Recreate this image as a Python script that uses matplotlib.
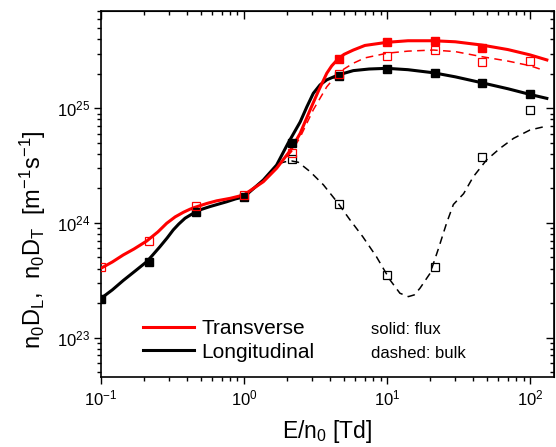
import numpy as np
import matplotlib
matplotlib.use('Agg')
import matplotlib.pyplot as plt
from matplotlib.lines import Line2D
from matplotlib.ticker import NullFormatter

plt.rcParams['font.family'] = ['Liberation Sans', 'DejaVu Sans']
plt.rcParams['mathtext.fontset'] = 'custom'
plt.rcParams['mathtext.rm'] = 'Liberation Sans'
plt.rcParams['mathtext.it'] = 'Liberation Sans:italic'
plt.rcParams['mathtext.bf'] = 'Liberation Sans:bold'

# ---- curves ----
xT_flux = [0.1, 0.12, 0.143, 0.17, 0.209, 0.25, 0.288, 0.33, 0.377, 0.42, 0.454, 0.55, 0.644,
           0.8, 0.9, 1.0, 1.365, 1.69, 2.12, 2.47, 2.9, 3.3, 3.79, 4.1, 4.54, 5.0, 5.81, 7.0,
           10, 14, 21.1, 30, 45.9, 70, 100, 131]
yT_flux = [4.03e23, 4.57e23, 5.26e23, 5.93e23, 6.97e23, 8.36e23, 9.94e23, 1.13e24, 1.24e24,
           1.32e24, 1.37e24, 1.48e24, 1.56e24, 1.64e24, 1.70e24, 1.76e24, 2.29e24, 3.0e24,
           4.33e24, 6.05e24, 9.7e24, 1.40e25, 2.02e25, 2.34e25, 2.69e25, 2.95e25, 3.22e25,
           3.53e25, 3.76e25, 3.88e25, 3.88e25, 3.8e25, 3.56e25, 3.25e25, 2.92e25, 2.64e25]

xT_bulk = [2.0, 2.15, 2.47, 3.05, 3.79, 4.1, 4.54, 5.0, 5.81, 7.0, 10, 14, 21.1, 30, 45.9, 70,
           100, 125]
yT_bulk = [3.8e24, 4.2e24, 5.6e24, 9.7e24, 1.54e25, 1.73e25, 1.99e25, 2.2e25, 2.47e25, 2.75e25,
           3.02e25, 3.15e25, 3.22e25, 3.12e25, 2.82e25, 2.58e25, 2.35e25, 2.14e25]

xL_flux = [0.1, 0.12, 0.143, 0.175, 0.209, 0.23, 0.258, 0.29, 0.32, 0.35, 0.387, 0.42, 0.454,
           0.5, 0.578, 0.65, 0.755, 0.87, 1.0, 1.365, 1.69, 2.03, 2.47, 2.75, 3.05, 3.4, 3.79,
           4.2, 4.54, 5.81, 7.5, 10, 14, 21.1, 30, 45.9, 70, 100, 131]
yL_flux = [2.2e23, 2.61e23, 3.15e23, 3.85e23, 4.6e23, 5.26e23, 6.2e23, 7.4e23, 8.7e23, 9.8e23,
           1.1e24, 1.17e24, 1.24e24, 1.31e24, 1.39e24, 1.45e24, 1.53e24, 1.62e24, 1.69e24,
           2.37e24, 3.2e24, 4.95e24, 7.6e24, 1.03e25, 1.35e25, 1.6e25, 1.77e25, 1.87e25,
           1.95e25, 2.13e25, 2.2e25, 2.23e25, 2.17e25, 2.04e25, 1.88e25, 1.67e25, 1.48e25,
           1.32e25, 1.22e25]

xL_bulk = [1.75, 1.95, 2.16, 2.4, 2.9, 3.59, 4.54, 5.46, 6.76, 8.43, 10.5, 12.3, 14.1, 15.5,
           17.0, 20.0, 22.9, 26.1, 29.1, 34.3, 40.1, 49.6, 61.7, 76.7, 100, 126]
yL_bulk = [3.3e24, 3.42e24, 3.47e24, 3.38e24, 2.8e24, 2.15e24, 1.49e24, 1.08e24, 7.6e23, 5.08e23,
           3.18e23, 2.44e23, 2.28e23, 2.36e23, 2.7e23, 3.64e23, 6.0e23, 1.0e24, 1.45e24, 1.8e24,
           2.53e24, 3.54e24, 4.48e24, 5.47e24, 6.47e24, 6.92e24]

# ---- symbols ----
xT_flux_pts = [4.64, 10, 21.5, 46.4]
yT_flux_pts = [2.69e25, 3.76e25, 3.84e25, 3.37e25]
xT_bulk_pts = [0.1, 0.215, 0.464, 1.0, 2.15, 4.64, 10, 21.5, 46.4, 100]
yT_bulk_pts = [4.13e23, 7.0e23, 1.41e24, 1.77e24, 4.07e24, 1.99e25, 2.88e25, 3.2e25, 2.52e25, 2.57e25]
xL_flux_pts = [0.1, 0.215, 0.464, 1.0, 2.15, 4.64, 10, 21.5, 46.4, 100]
yL_flux_pts = [2.18e23, 4.57e23, 1.24e24, 1.69e24, 4.95e24, 1.9e25, 2.21e25, 2.02e25, 1.65e25, 1.32e25]
xL_bulk_pts = [2.15, 4.64, 10, 21.5, 46.4, 100]
yL_bulk_pts = [3.59e24, 1.47e24, 3.52e23, 4.16e23, 3.74e24, 9.66e24]

legend_labels = ['Transverse', 'Longitudinal']
note_lines = ['solid: flux', 'dashed: bulk']

RED = '#ff0000'
fig = plt.figure(figsize=(5.56, 4.47), dpi=100)
ax = fig.add_axes([101/556, 70/447, 453/556, 366/447])
ax.set_xscale('log')
ax.set_yscale('log')
ax.set_xlim(0.1, 147)
ax.set_ylim(4.54e22, 7.05e25)

dash = (0, (5, 3.5))
ax.plot(xT_bulk, yT_bulk, color=RED, lw=1.1, ls=dash, zorder=2)
ax.plot(xL_bulk, yL_bulk, color='black', lw=1.1, ls=dash, zorder=2)
ax.plot(xL_flux, yL_flux, color='black', lw=2.2, zorder=3, solid_joinstyle='round')
ax.plot(xT_flux, yT_flux, color=RED, lw=2.2, zorder=3, solid_joinstyle='round')

ms = 5.5
ax.plot(xL_flux_pts, yL_flux_pts, ls='none', marker='s', ms=ms, color='black', zorder=4)
ax.plot(xT_flux_pts, yT_flux_pts, ls='none', marker='s', ms=ms, color=RED, zorder=4)
ax.plot(xL_bulk_pts, yL_bulk_pts, ls='none', marker='s', ms=ms, mfc='none', mec='black', mew=0.9, zorder=5)
ax.plot(xT_bulk_pts, yT_bulk_pts, ls='none', marker='s', ms=ms, mfc='none', mec=RED, mew=0.9, zorder=5)

for s in ax.spines.values():
    s.set_linewidth(1.2)
ax.tick_params(which='major', direction='out', length=5, width=1, labelsize=12, pad=3)
ax.tick_params(which='minor', direction='out', length=3, width=1)

top = ax.secondary_xaxis('top')
top.tick_params(which='major', direction='in', length=6, width=1)
top.tick_params(which='minor', direction='in', length=3, width=1)
top.xaxis.set_major_formatter(NullFormatter())
top.xaxis.set_minor_formatter(NullFormatter())
right = ax.secondary_yaxis('right')
right.tick_params(which='major', direction='in', length=6, width=1)
right.tick_params(which='minor', direction='in', length=3, width=1)
right.yaxis.set_major_formatter(NullFormatter())
right.yaxis.set_minor_formatter(NullFormatter())

ax.set_xlabel(r'E/n$_0$ [Td]', fontsize=16.5, labelpad=7.5)
ax.set_ylabel(r'n$_0$D$_\mathrm{L}$,  n$_0$D$_\mathrm{T}$  [m$^{-1}$s$^{-1}$]', fontsize=17)
ax.yaxis.set_label_coords(-0.117, 0.375)

handles = [Line2D([], [], color=RED, lw=2.2), Line2D([], [], color='black', lw=2.2)]
ax.legend(handles, legend_labels, loc='lower left', bbox_to_anchor=(0.092, 0.042),
          frameon=False, fontsize=15, handlelength=2.45, handletextpad=0.37,
          labelspacing=0.2, borderaxespad=0, borderpad=0)
ax.text(0.595, 0.117, note_lines[0], transform=ax.transAxes, fontsize=12, va='baseline')
ax.text(0.595, 0.052, note_lines[1], transform=ax.transAxes, fontsize=12, va='baseline')

fig.savefig('out.png', dpi=100)
